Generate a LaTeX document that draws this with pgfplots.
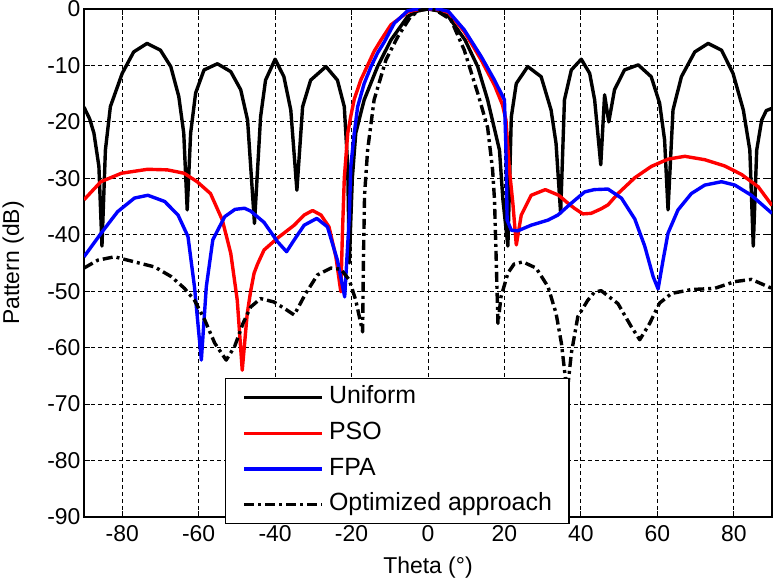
\documentclass[border=0pt]{standalone}
\usepackage{fontspec}
\setmainfont{Liberation Sans}
\usepackage{pgfplots}
\pgfplotsset{compat=1.18}
\begin{document}
\begin{tikzpicture}
\begin{axis}[
  at={(84bp,65bp)}, anchor=south west,
  scale only axis, width=688bp, height=508bp,
  xmin=-90, xmax=90, ymin=-90, ymax=0,
  xtick={-80,-60,-40,-20,0,20,40,60,80},
  xticklabels={-80,-60,-40,-20,0,20,40,60,80},
  ytick={-90,-80,-70,-60,-50,-40,-30,-20,-10,0},
  yticklabels={-90,-80,-70,-60,-50,-40,-30,-20,-10,0},
  tick align=inside, major tick length=6bp,
  major tick style={black, line width=0.8bp},
  grid=major,
  grid style={black, line width=0.8bp, dash pattern=on 4bp off 3bp},
  axis line style={black, line width=1.3bp},
  tick label style={font=\fontsize{23}{27}\selectfont},
  xticklabel style={yshift=-5bp},
  label style={font=\fontsize{23}{27}\selectfont},
  xlabel={Theta (°)}, ylabel={Pattern (dB)},
  xlabel style={at={(axis description cs:0.5,-0.1)}, anchor=center},
  ylabel style={at={(axis description cs:-0.103,0.5)}, anchor=center},
  legend cell align=left,
  legend style={at={(0.205,0.2736)}, anchor=north west, draw=black,
    line width=1.2bp, fill=white, font=\fontsize{25}{29}\selectfont,
    inner xsep=17bp, inner ysep=8bp, row sep=13.7bp, column sep=5bp,
    nodes={inner sep=0bp, text height=17bp, text depth=5bp}},
  legend image code/.code={\draw[#1] (0bp,0bp) -- (78bp,0bp);},
  every axis plot/.append style={line width=3.4bp, line join=round},
]
\addplot[black] coordinates {
(-90,-17.4) (-88.5,-19.5) (-87.4,-22) (-86.1,-27.9) (-85.3,-42) (-84.4,-25) (-83.1,-17.3) (-80,-11.4) (-77,-7.6) (-73.5,-6.1) (-70,-7.3) (-67.3,-10.2) (-65.2,-15.5) (-63.9,-22) (-63,-35.6) (-62.1,-22) (-60.8,-14.9) (-58.6,-10.8) (-55.1,-9.7) (-51.6,-11.1) (-49,-14.3) (-47.2,-19.7) (-45.4,-38) (-43.8,-19.1) (-42.5,-12.6) (-40,-8.9) (-37.7,-12) (-35.9,-17.9) (-34.3,-32.1) (-32.8,-17.3) (-30.7,-12.6) (-26.7,-10.2) (-23.7,-12.6) (-21.9,-17.3) (-21,-27.9) (-20.6,-45) (-19.8,-30) (-18.9,-22) (-16.7,-16.1) (-13.2,-10.2) (-9.7,-5.5) (-5.3,-1.3) (-2.5,-0.3) (0,0) (2.5,-0.3) (5.3,-1.3) (9.7,-5.5) (13,-10.2) (15.6,-16.1) (18.7,-25) (19.6,-33.8) (20.9,-42) (21.8,-19.1) (23.1,-13.2) (26.1,-10.2) (29.6,-12) (32.2,-17.9) (33.5,-23.8) (34.7,-36.2) (35.7,-16.1) (37.5,-10.8) (40.1,-8.9) (42.3,-11.4) (43.6,-16.1) (45.2,-27.6) (46.2,-15.2) (47.3,-20) (48.8,-14.3) (51.4,-10.8) (55,-9.9) (58.4,-12) (60.6,-16.7) (61.9,-23.2) (62.8,-35.6) (64.1,-17.9) (66.3,-12) (69.8,-7.6) (73.3,-6.1) (76.8,-7.3) (79.8,-11.4) (82.5,-17.9) (84.2,-25) (85.1,-42) (86,-25) (87.3,-19.7) (88.5,-18) (90,-17.6)
};
\addlegendentry{Uniform}
\addplot[red] coordinates {
(-90,-33.8) (-85.6,-30.6) (-80.2,-29.1) (-73.4,-28.4) (-68.2,-28.5) (-63.8,-29.1) (-60.4,-30.6) (-56.9,-32.7) (-53.8,-37.4) (-51.6,-43.3) (-49.9,-51.6) (-48.6,-64) (-47.3,-54) (-46.4,-50) (-45.5,-46.8) (-44.6,-45.2) (-42.9,-42.7) (-39.4,-40.6) (-35,-38.3) (-32.4,-36.5) (-30.2,-35.7) (-28,-36.5) (-25.9,-38.6) (-24.1,-43.9) (-22.8,-50.1) (-22.4,-40) (-21.9,-30) (-21,-22) (-20.2,-19) (-19.3,-16) (-17.6,-12.6) (-15.8,-10) (-14.1,-7.5) (-12.3,-5.5) (-9.7,-2.8) (-7.9,-1.9) (-5.3,-0.5) (-2.5,-0.1) (0,0) (2.5,-0.1) (5.3,-0.6) (9.5,-4) (13.9,-9) (17.4,-13.5) (19.5,-17) (20.4,-19.7) (21.3,-28.5) (22.2,-34.4) (23.1,-41.8) (24.4,-36.5) (27,-33) (30.7,-32) (34.2,-33) (36.6,-34.4) (38.3,-35.3) (40.5,-36.3) (42.7,-36.2) (45.3,-35.4) (47.1,-34.7) (49.7,-32.7) (54.1,-29.9) (58.4,-27.9) (62.8,-26.6) (67.2,-26.1) (72.4,-26.7) (77.6,-27.8) (82,-29.3) (86.4,-31.5) (90,-34.8)
};
\addlegendentry{PSO}
\addplot[blue] coordinates {
(-90,-43.9) (-85.5,-39.7) (-81.2,-35.9) (-76.8,-33.5) (-73.3,-33) (-68.9,-34.1) (-65.4,-36.5) (-62.8,-40.3) (-61.1,-49.2) (-59.3,-62.2) (-58,-49.2) (-56.3,-40.9) (-53.2,-36.8) (-50.5,-35.5) (-48,-35.3) (-46.4,-35.8) (-42.9,-37.8) (-39.4,-41.2) (-37,-43) (-35,-40.9) (-32.4,-38.3) (-29.1,-37.1) (-26.3,-38.6) (-23.7,-44.5) (-21.8,-51) (-20.6,-37) (-20.2,-27.9) (-19.3,-22) (-18.4,-17.3) (-16.7,-13.2) (-14.9,-10.2) (-13.2,-7.8) (-11.4,-5.8) (-8.8,-2.5) (-7.5,-1.7) (-5.3,-0.3) (-2.5,0) (0,0) (2.5,0) (5.3,-0.4) (9.5,-3.7) (13.9,-8.4) (17.4,-12.6) (20,-16.1) (20.4,-25) (20.7,-37.4) (21.8,-39.2) (23.5,-39.3) (27,-38.3) (31.4,-37.4) (34,-36.5) (37.5,-34.4) (41,-32.4) (43.5,-32) (47.1,-31.9) (50.6,-33.5) (54.1,-37.2) (56.7,-42) (58.9,-47.4) (60.2,-49.6) (61.5,-44.5) (62.8,-39.7) (65.4,-35.6) (68.9,-32.7) (72.4,-31.2) (76.8,-30.6) (80.3,-31.2) (84.6,-33) (90,-36.2)
};
\addlegendentry{FPA}
\addplot[black, dash pattern=on 10bp off 4bp on 3bp off 4bp] coordinates {
(-90,-45.9) (-86.4,-44.5) (-82,-43.9) (-76.8,-44.8) (-71.5,-45.7) (-67.2,-47.4) (-63.7,-49.5) (-61.1,-51.6) (-58.4,-55.1) (-55.8,-59.2) (-52.8,-62.2) (-50.6,-59.8) (-48.4,-55.7) (-46.4,-52.8) (-43.8,-51.3) (-40.3,-51.9) (-37.7,-53) (-35,-54.2) (-32,-50.4) (-28.9,-47.1) (-25.4,-45.9) (-22.8,-46.1) (-20.6,-48) (-18.9,-51.6) (-17.1,-57.2) (-16.9,-45) (-16.6,-33) (-15.8,-25) (-14.1,-16.1) (-11,-9) (-7.9,-4.9) (-4.5,-1.3) (-2,-0.2) (0,0) (2,-0.2) (6,-1.9) (9.5,-7.3) (13,-14.9) (15.6,-21) (16.9,-28.5) (17.4,-33.8) (17.8,-43.3) (18.3,-55.7) (19.1,-51) (20.9,-46.8) (22.5,-45.2) (24.8,-44.8) (28.3,-45.9) (31.4,-49.2) (33.5,-53.9) (34.9,-59.2) (35.9,-65.1) (36.4,-68) (37.5,-61) (39.2,-54.5) (41.8,-51.6) (43.5,-50.2) (45.3,-49.9) (49.7,-52.2) (53.2,-56.3) (55.4,-58.6) (58,-55.7) (60.6,-52.1) (63.7,-50.4) (68.9,-49.7) (75,-49.5) (80.3,-48.3) (84.6,-47.9) (90,-49.5)
};
\addlegendentry{Optimized approach}
\end{axis}
\pgfresetboundingbox
\path (0,0) rectangle (774bp,582bp);
\end{tikzpicture}
\end{document}
